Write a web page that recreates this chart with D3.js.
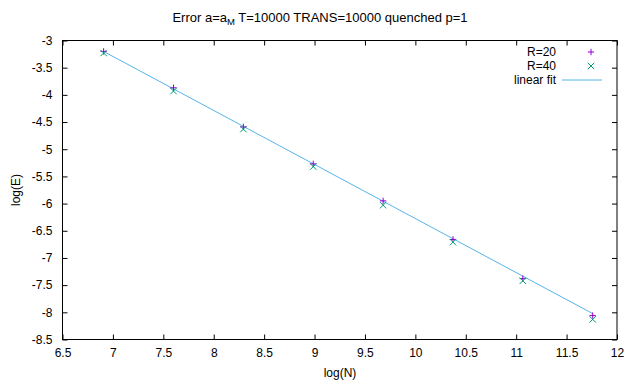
<!DOCTYPE html>
<html><head><meta charset="utf-8">
<script src="https://cdn.jsdelivr.net/npm/d3@7"></script>
<style>body{margin:0;background:#fff}text{font-family:"Liberation Sans",Arial,sans-serif;}</style>
</head><body>
<svg id="c" width="640" height="384"></svg>
<script>
const logN = [6.908, 7.601, 8.294, 8.987, 9.680, 10.373, 11.066, 11.759];
const r20 = [-3.20, -3.87, -4.59, -5.27, -5.95, -6.66, -7.38, -8.06];
const r40 = [-3.23, -3.93, -4.63, -5.32, -6.03, -6.71, -7.42, -8.13];
const fitSlope = -0.994;
const fitIntercept = 3.665;
const xTicks = [6.5, 7, 7.5, 8, 8.5, 9, 9.5, 10, 10.5, 11, 11.5, 12];
const yTicks = [-3, -3.5, -4, -4.5, -5, -5.5, -6, -6.5, -7, -7.5, -8, -8.5];
const seriesNames = ["R=20", "R=40", "linear fit"];
const colors = ["#9400d3", "#009e73", "#56b4e9"];

const svg = d3.select("#c");
const L = 62.5, R = 617, T = 40.5, B = 339.5;
const x = d3.scaleLinear().domain([6.5, 12]).range([L, R]);
const y = d3.scaleLinear().domain([-8.5, -3]).range([B, T]);
const fmt = d => String(d);
const tl = 5;

const ax = [
  svg.append("g").attr("transform", `translate(0,${B})`).call(d3.axisBottom(x).tickValues(xTicks).tickFormat(fmt).tickSize(-tl).tickPadding(9)),
  svg.append("g").attr("transform", `translate(0,${T})`).call(d3.axisTop(x).tickValues(xTicks).tickFormat("").tickSize(-tl)),
  svg.append("g").attr("transform", `translate(${L},0)`).call(d3.axisLeft(y).tickValues(yTicks).tickFormat(fmt).tickSize(-tl).tickPadding(10)),
  svg.append("g").attr("transform", `translate(${R},0)`).call(d3.axisRight(y).tickValues(yTicks).tickFormat("").tickSize(-tl))
];
ax.forEach(g => {
  g.select(".domain").remove();
  g.selectAll(".tick line").attr("stroke", "#000");
  g.selectAll("text").attr("font-size", 12).attr("fill", "#000").attr("font-family", '"Liberation Sans",Arial,sans-serif');
});
svg.append("rect").attr("x", L).attr("y", T).attr("width", R - L).attr("height", B - T)
  .attr("fill", "none").attr("stroke", "#000").attr("stroke-width", 1);

const xs = d3.extent(logN);
svg.append("line")
  .attr("x1", x(xs[0])).attr("y1", y(fitIntercept + fitSlope * xs[0]))
  .attr("x2", x(xs[1])).attr("y2", y(fitIntercept + fitSlope * xs[1]))
  .attr("stroke", colors[2]).attr("stroke-width", 1);

const s = 3.2;
function plus(g, cx, cy, c) {
  g.append("path").attr("d", `M${cx - s},${cy}H${cx + s}M${cx},${cy - s}V${cy + s}`).attr("stroke", c).attr("stroke-width", 1).attr("fill", "none");
}
function cross(g, cx, cy, c) {
  g.append("path").attr("d", `M${cx - s},${cy - s}L${cx + s},${cy + s}M${cx - s},${cy + s}L${cx + s},${cy - s}`).attr("stroke", c).attr("stroke-width", 1).attr("fill", "none");
}
const gp = svg.append("g");
logN.forEach((v, i) => plus(gp, x(v), y(r20[i]), colors[0]));
logN.forEach((v, i) => cross(gp, x(v), y(r40[i]), colors[1]));

const lg = svg.append("g");
const ly = [52, 66, 80];
seriesNames.forEach((n, i) => {
  lg.append("text").attr("x", 556).attr("y", ly[i] + 4).attr("text-anchor", "end").attr("font-size", 12).text(n);
});
plus(lg, 591, ly[0], colors[0]);
cross(lg, 591, ly[1], colors[1]);
lg.append("line").attr("x1", 562).attr("x2", 602).attr("y1", ly[2]).attr("y2", ly[2]).attr("stroke", colors[2]);

const t = svg.append("text").attr("x", 320).attr("y", 22).attr("text-anchor", "middle").attr("font-size", 13);
t.append("tspan").text("Error a=a");
t.append("tspan").attr("font-size", 9.5).attr("dy", 3).text("M");
t.append("tspan").attr("dy", -3).text(" T=10000 TRANS=10000 quenched p=1");

svg.append("text").attr("x", 340).attr("y", 377).attr("text-anchor", "middle").attr("font-size", 12).text("log(N)");
svg.append("text").attr("transform", "translate(20,190) rotate(-90)").attr("text-anchor", "middle").attr("font-size", 12).text("log(E)");
</script>
</body></html>
